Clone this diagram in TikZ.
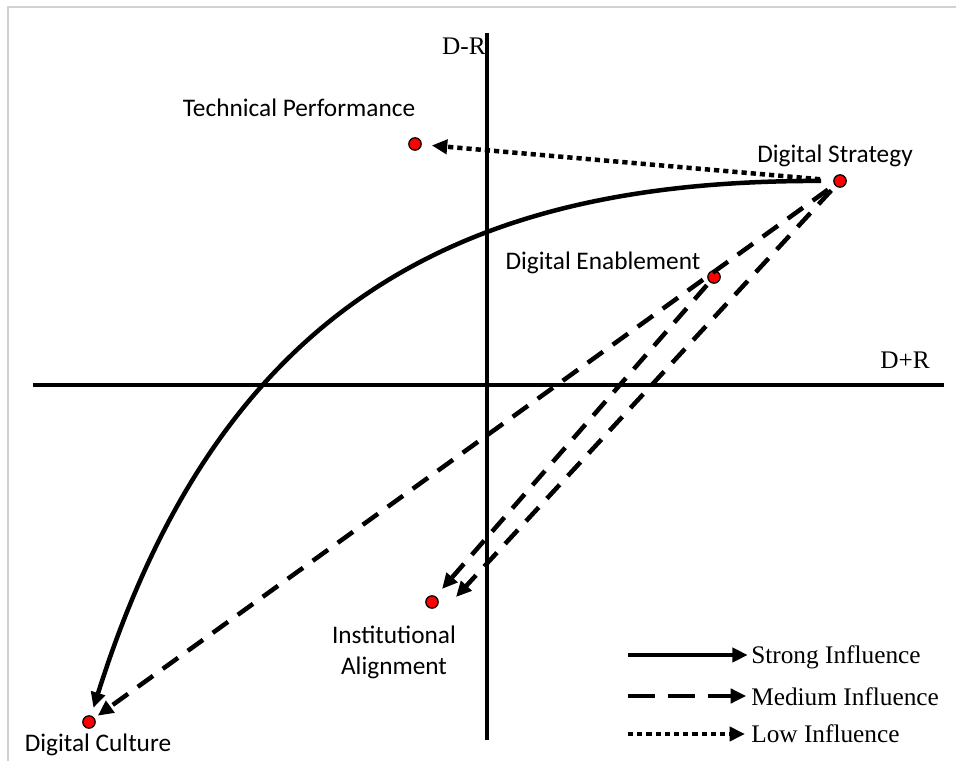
\documentclass[tikz,border=0pt]{standalone}
\usepackage{fontspec}
\setmainfont{Liberation Serif}
\newfontfamily\labelfont{Carlito}
\usetikzlibrary{arrows.meta}

\tikzset{
	axis/.style={line width=2.2pt},
	factor/.style={circle, fill=red, draw=black, line width=0.9pt, inner sep=0pt, minimum size=0.31cm},
	lbl/.style={font=\labelfont\fontsize{18}{22}\selectfont, inner sep=0pt, align=center},
	axlbl/.style={font=\fontsize{18}{22}\selectfont, inner sep=0pt},
	tip/.style={-{Triangle[length=11pt,width=10pt]}},
	strong/.style={tip, line width=3.2pt},
	medium/.style={tip, line width=3.2pt, dash pattern=on 0.47cm off 0.3cm},
	low/.style={tip, line width=3.2pt, dash pattern=on 0.13cm off 0.1cm},
}

\begin{document}
\begin{tikzpicture}[x=0.025cm, y=-0.025cm]
		\useasboundingbox (0,0) rectangle (956,761);
		\draw[line width=1.5pt, black!18] (8,761) -- (8,7) -- (956,7);

		% axes
		\coordinate (ytop) at (487,33);
		\coordinate (ybot) at (487,740);
		\coordinate (xl) at (33,385);
		\coordinate (xr) at (944,385);
		\draw[axis] (ybot) -- (ytop);
		\draw[axis] (xl) -- (xr);
		\node[axlbl] (dmr) at (464,46) {D-R};
		\node[axlbl] (dpr) at (905,360) {D+R};

		% factors
		\node[factor] (tp) at (415,144) {};
		\node[factor] (ds) at (840,181) {};
		\node[factor] (de) at (714,277) {};
		\node[factor] (ia) at (432,602) {};
		\node[factor] (dc) at (89,722) {};

		\node[lbl] (tp-lbl) at (299,108) {Technical Performance};
		\node[lbl] (ds-lbl) at (835,156) {Digital Strategy};
		\node[lbl] (de-lbl) at (603,263) {Digital Enablement};
		\node[lbl] (ia-lbl) at (394,652) {Institutional\\Alignment};
		\node[lbl] (dc-lbl) at (98,745) {Digital Culture};

		% influences
		\draw[low, shorten <=0.33cm, shorten >=0.25cm] (ds) -- (tp);
		\draw[strong, shorten <=0.3cm, shorten >=0.2cm] (ds) .. controls (480,180) and (225,290) .. (dc);
		\draw[medium, shorten <=0.2cm, shorten >=0.1cm] (ds) -- (dc);
		\draw[medium, shorten <=0.15cm] (ds) -- ([shift={(24,-5)}]ia.center);
		\draw[medium, shorten <=0.1cm] (de) -- ([shift={(10,-13)}]ia.center);

		% key
		\coordinate (k1) at (628,655);
		\coordinate (k2) at (628,696);
		\coordinate (k3) at (628,734);
		\node[axlbl, anchor=west] (k1-txt) at (751,657) {Strong Influence};
		\node[axlbl, anchor=west] (k2-txt) at (751,697) {Medium Influence};
		\node[axlbl, anchor=west] (k3-txt) at (751,734) {Low Influence};
		\draw[strong, shorten >=0.08cm] (k1) -- (k1 -| k1-txt.west);
		\draw[medium, dash pattern=on 0.68cm off 0.32cm, shorten >=0.12cm] (k2) -- (k2 -| k2-txt.west);
		\draw[low, shorten >=0.15cm] (k3) -- (k3 -| k3-txt.west);
	\end{tikzpicture}
\end{document}
